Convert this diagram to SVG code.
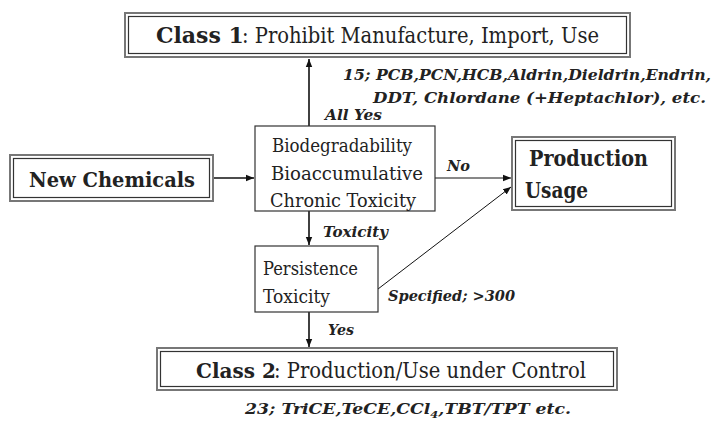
<svg xmlns="http://www.w3.org/2000/svg" width="715" height="423" viewBox="0 0 715 423">
<style>
text{font-family:'DejaVu Serif','Liberation Serif',serif;fill:#222}
.box{fill:#fff;stroke:#333;stroke-width:1.2}
.dout{fill:#fff;stroke:#777;stroke-width:2}
.din{fill:none;stroke:#333;stroke-width:1.2}
.lbl{font-weight:bold;font-style:italic;font-size:15px}
.t20{font-size:19px}
.t22{font-size:22px}
.b{font-weight:bold}
.line{stroke:#111;stroke-width:1.6;fill:none}
.thin{stroke:#111;stroke-width:1;fill:none}
</style>
<defs>
<marker id="ah" viewBox="0 0 10 10" refX="10" refY="5" markerWidth="8" markerHeight="8" markerUnits="userSpaceOnUse" orient="auto">
<path d="M0,1 L10,5 L0,9 z" fill="#111"/>
</marker>
</defs>
<g id="connectors">
<line class="line" x1="309" y1="126" x2="309" y2="59" marker-end="url(#ah)"/>
<line class="line" x1="213" y1="178" x2="254" y2="178" marker-end="url(#ah)"/>
<line class="thin" x1="435" y1="178" x2="511" y2="178" marker-end="url(#ah)"/>
<line class="thin" x1="378" y1="289" x2="511" y2="187" marker-end="url(#ah)"/>
<line class="line" x1="309" y1="211" x2="309" y2="245" marker-end="url(#ah)"/>
<line class="line" x1="309" y1="312" x2="309" y2="347" marker-end="url(#ah)"/>
<text class="lbl" x="325" y="120" textLength="57" lengthAdjust="spacingAndGlyphs">All Yes</text>
<text class="lbl" x="447" y="171" textLength="23" lengthAdjust="spacingAndGlyphs">No</text>
<text class="lbl" x="323" y="237" textLength="65" lengthAdjust="spacingAndGlyphs">Toxicity</text>
<text class="lbl" x="328" y="335" textLength="26" lengthAdjust="spacingAndGlyphs">Yes</text>
<text class="lbl" x="388" y="301" textLength="127" lengthAdjust="spacingAndGlyphs">Specified; &gt;300</text>
<text class="lbl" x="343" y="80" textLength="368" lengthAdjust="spacingAndGlyphs">15; PCB,PCN,HCB,Aldrin,Dieldrin,Endrin,</text>
<text class="lbl" x="373" y="103" textLength="333" lengthAdjust="spacingAndGlyphs">DDT, Chlordane (+Heptachlor), etc.</text>
<text class="lbl" x="245" y="414" textLength="326" lengthAdjust="spacingAndGlyphs">23; TriCE,TeCE,CCl<tspan font-size="10" dy="4">4</tspan><tspan dy="-4">,TBT/TPT etc.</tspan></text>
</g>
<g id="class1">
<rect class="dout" x="125" y="13" width="505" height="44"/>
<rect class="din" x="128.5" y="16.5" width="498" height="37"/>
<text class="b" font-size="22" x="156" y="43">Class 1</text>
<text class="t22" x="242" y="43" textLength="357" lengthAdjust="spacingAndGlyphs">: Prohibit Manufacture, Import, Use</text>
</g>
<g id="new-chemicals">
<rect class="dout" x="10" y="155" width="203" height="46"/>
<rect class="din" x="13.5" y="158.5" width="196" height="39"/>
<text class="b" x="29" y="187" font-size="21" textLength="166" lengthAdjust="spacingAndGlyphs">New Chemicals</text>
</g>
<g id="criteria">
<rect class="box" x="255" y="126" width="180" height="85"/>
<text class="t20" x="272" y="152" textLength="140" lengthAdjust="spacingAndGlyphs">Biodegradability</text>
<text class="t20" x="271" y="180" textLength="152" lengthAdjust="spacingAndGlyphs">Bioaccumulative</text>
<text class="t20" x="270" y="207" textLength="146" lengthAdjust="spacingAndGlyphs">Chronic Toxicity</text>
</g>
<g id="production">
<rect class="dout" x="512" y="137" width="163" height="73"/>
<rect class="din" x="515.5" y="140.5" width="156" height="66"/>
<text class="t22 b" x="529" y="166" textLength="119" lengthAdjust="spacingAndGlyphs">Production</text>
<text class="t22 b" x="525" y="198" textLength="63" lengthAdjust="spacingAndGlyphs">Usage</text>
</g>
<g id="persistence">
<rect class="box" x="255" y="246" width="123" height="66"/>
<text class="t20" x="263" y="275" textLength="95" lengthAdjust="spacingAndGlyphs">Persistence</text>
<text class="t20" x="263" y="303" textLength="67" lengthAdjust="spacingAndGlyphs">Toxicity</text>
</g>
<g id="class2">
<rect class="dout" x="157" y="348" width="460" height="42"/>
<rect class="din" x="160.5" y="351.5" width="453" height="35"/>
<text class="b" font-size="20" x="196" y="378">Class 2</text>
<text class="t22" x="274" y="378" textLength="312" lengthAdjust="spacingAndGlyphs">: Production/Use under Control</text>
</g>
</svg>
